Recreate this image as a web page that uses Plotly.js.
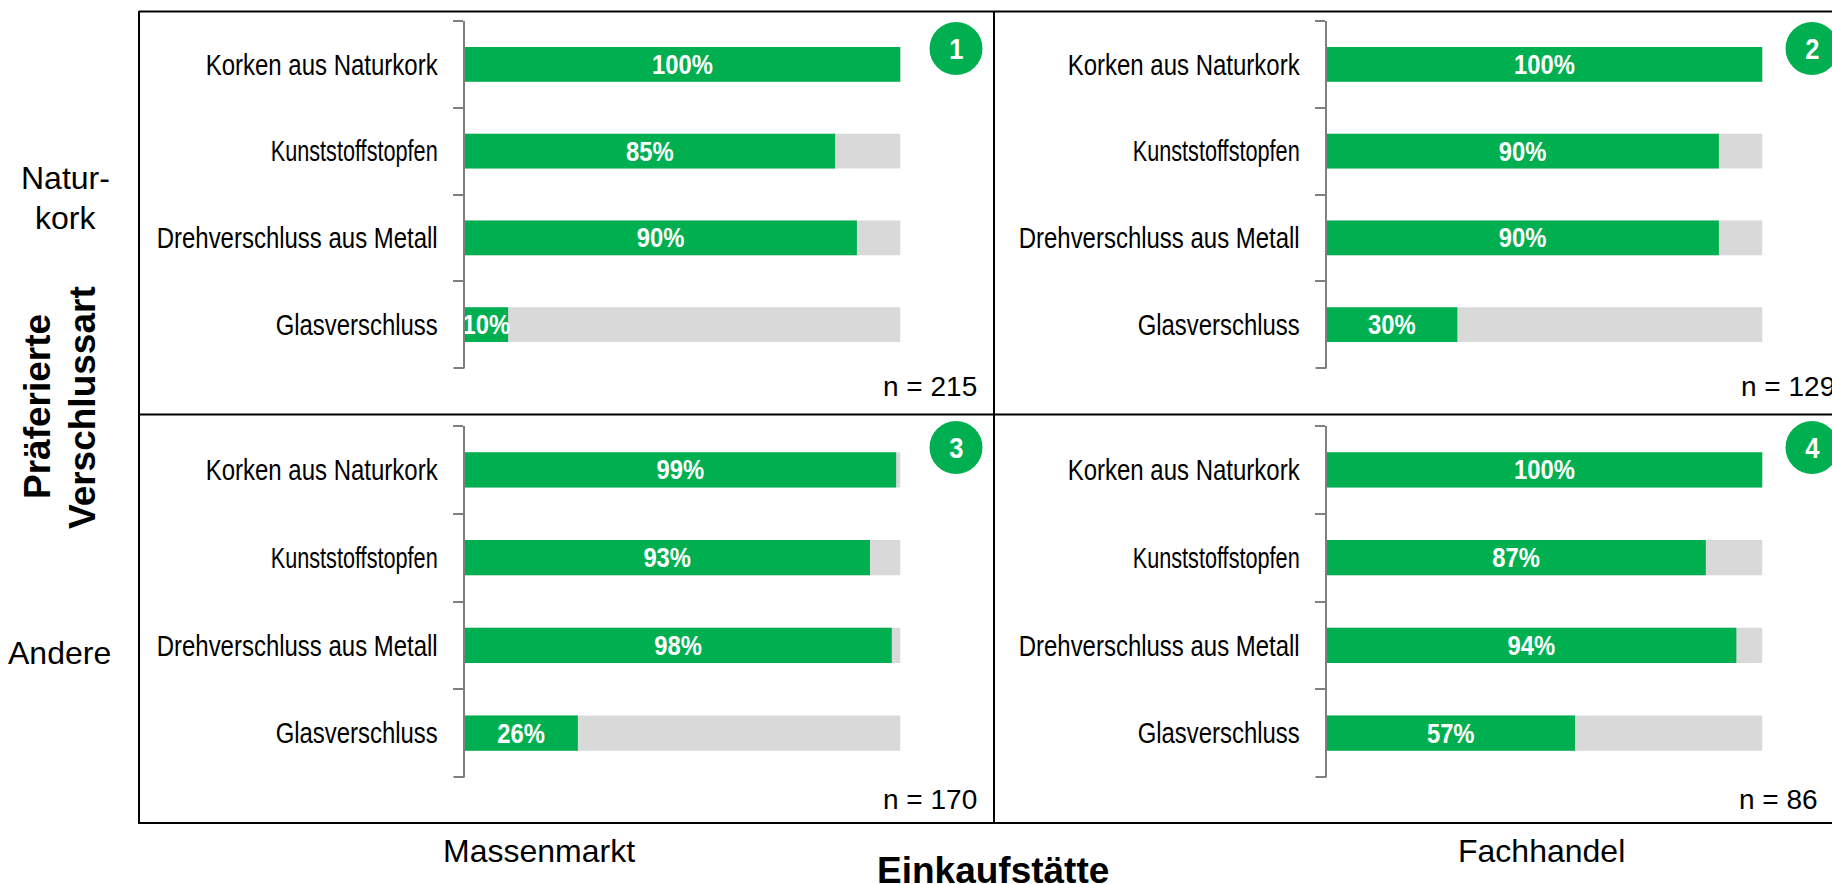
<!DOCTYPE html>
<html>
<head>
<meta charset="utf-8">
<script src="https://cdn.plot.ly/plotly-3.0.1.min.js"></script>
<style>html,body{margin:0;padding:0;background:#fff;overflow:hidden}</style>
</head>
<body>
<div id="chart" style="width:1832px;height:884px"></div>
<script>
const categories = ["Korken aus Naturkork", "Kunststoffstopfen", "Drehverschluss aus Metall", "Glasverschluss"];
const massenmarktNaturkork = [100, 85, 90, 10];
const fachhandelNaturkork = [100, 90, 90, 30];
const massenmarktAndere = [99, 93, 98, 26];
const fachhandelAndere = [100, 87, 94, 57];
const fullScale = [100, 100, 100, 100];
const sampleSizes = ["n = 215", "n = 129", "n = 170", "n = 86"];
const panelNumbers = ["1", "2", "3", "4"];

const W = 1832, H = 884;
const GREEN = "#00B050", GREY = "#D9D9D9", AXIS = "#7F7F7F";
const SANS = "'Liberation Sans',Arial,sans-serif";
const px = v => v / W, py = v => 1 - v / H;

const panels = [
  {vals: massenmarktNaturkork, x: [464.5, 900.5],  y: [21, 368],  cx: 956,  cy: 48.5,  nx: 979,  nAnchor: "right", ny: 386},
  {vals: fachhandelNaturkork,  x: [1326.5, 1762.5], y: [21, 368],  cx: 1812, cy: 48.5,  nx: 1739, nAnchor: "left",  ny: 386},
  {vals: massenmarktAndere,    x: [464.5, 900.5],  y: [426, 777], cx: 956,  cy: 447.5, nx: 979,  nAnchor: "right", ny: 799},
  {vals: fachhandelAndere,     x: [1326.5, 1762.5], y: [426, 777], cx: 1812, cy: 447.5, nx: 1820, nAnchor: "right", ny: 799}
];

const data = [];
const layout = {
  width: W, height: H,
  margin: {l: 0, r: 0, t: 0, b: 0},
  paper_bgcolor: "#fff", plot_bgcolor: "rgba(0,0,0,0)",
  barmode: "overlay", bargap: 0.6, showlegend: false,
  font: {family: SANS, color: "#000"},
  shapes: [], annotations: []
};

const note = (x, y, text, size, opts = {}) => layout.annotations.push(Object.assign({
  xref: "paper", yref: "paper", x: px(x), y: py(y), text: text, showarrow: false,
  xanchor: "center", yanchor: "middle", font: {family: SANS, size: size, color: "#000"}
}, opts));
const line = (x0, y0, x1, y1, color = "#000") => layout.shapes.push({
  type: "line", xref: "paper", yref: "paper",
  x0: px(x0), y0: py(y0), x1: px(x1), y1: py(y1), line: {color: color, width: 2}
});

panels.forEach((p, i) => {
  const s = i === 0 ? "" : String(i + 1);
  data.push({type: "bar", orientation: "h", y: categories, x: fullScale, xaxis: "x" + s, yaxis: "y" + s,
    marker: {color: GREY, line: {width: 0}}, hoverinfo: "skip"});
  data.push({type: "bar", orientation: "h", y: categories, x: p.vals, xaxis: "x" + s, yaxis: "y" + s,
    marker: {color: GREEN, line: {width: 0}},
    text: p.vals.map(v => v + "%"), textposition: "inside", insidetextanchor: "middle",
    textangle: 0, constraintext: "none", cliponaxis: false,
    insidetextfont: {family: SANS, size: 28, color: "#fff", weight: 700}});
  layout["xaxis" + s] = {domain: [px(p.x[0]), px(p.x[1])], range: [0, 100], visible: false, anchor: "y" + s, fixedrange: true};
  layout["yaxis" + s] = {
    domain: [py(p.y[1]), py(p.y[0])], anchor: "x" + s, type: "category",
    categoryorder: "array", categoryarray: categories, range: [3.5, -0.5],
    tickson: "boundaries", ticks: "outside", ticklen: 10, tickwidth: 2, tickcolor: AXIS,
    showline: true, linecolor: AXIS, linewidth: 2, showgrid: false, zeroline: false,
    ticklabelstandoff: 19, tickfont: {family: SANS, size: 29, color: "#000"}, fixedrange: true
  };
  // Closing tick at the foot of the axis, which tickson "boundaries" leaves out
  line(p.x[0] - 11, p.y[1], p.x[0], p.y[1], AXIS);
  layout.shapes.push({type: "circle", xref: "paper", yref: "paper",
    x0: px(p.cx - 26.5), x1: px(p.cx + 26.5), y0: py(p.cy + 26.5), y1: py(p.cy - 26.5),
    fillcolor: GREEN, line: {width: 0}});
  note(p.cx, p.cy, panelNumbers[i], 30, {font: {family: SANS, size: 30, color: "#fff", weight: 700}});
  note(p.nx, p.ny, sampleSizes[i], 28, {xanchor: p.nAnchor});
});

// Frame
line(139, 11.5, W, 11.5);
line(139, 414.5, W, 414.5);
line(139, 823, W, 823);
line(139, 11, 139, 824);
line(994, 11, 994, 824);

// Row and column headings
note(65, 178, "Natur-", 32);
note(65, 217.5, "kork", 32);
note(59, 653, "Andere", 32);
note(38, 407, "<b>Präferierte</b>", 37, {textangle: -90});
note(82, 408, "<b>Verschlussart</b>", 37, {textangle: -90});
note(539, 851, "Massenmarkt", 32);
note(1541, 851, "Fachhandel", 32);
note(993, 870, "<b>Einkaufstätte</b>", 37);

// The reference sets its labels in a condensed face, which is not installed: squeeze the real text.
const labelWidths = {
  "Korken aus Naturkork": 232, "Kunststoffstopfen": 167,
  "Drehverschluss aus Metall": 281, "Glasverschluss": 162
};
const squeeze = (el, len) => {
  el.setAttribute("textLength", len);
  el.setAttribute("lengthAdjust", "spacingAndGlyphs");
};
Plotly.newPlot("chart", data, layout, {displayModeBar: false, staticPlot: true}).then(gd => {
  gd.querySelectorAll(".cartesianlayer text").forEach(t => {
    const w = labelWidths[t.textContent];
    if (w) squeeze(t, w);
  });
  gd.querySelectorAll("text.bartext").forEach(t => squeeze(t, t.getComputedTextLength() * 0.85));
  gd.querySelectorAll(".annotation-text").forEach(t => {
    if (panelNumbers.includes(t.textContent)) squeeze(t, t.getComputedTextLength() * 0.85);
  });
});
</script>
</body>
</html>
